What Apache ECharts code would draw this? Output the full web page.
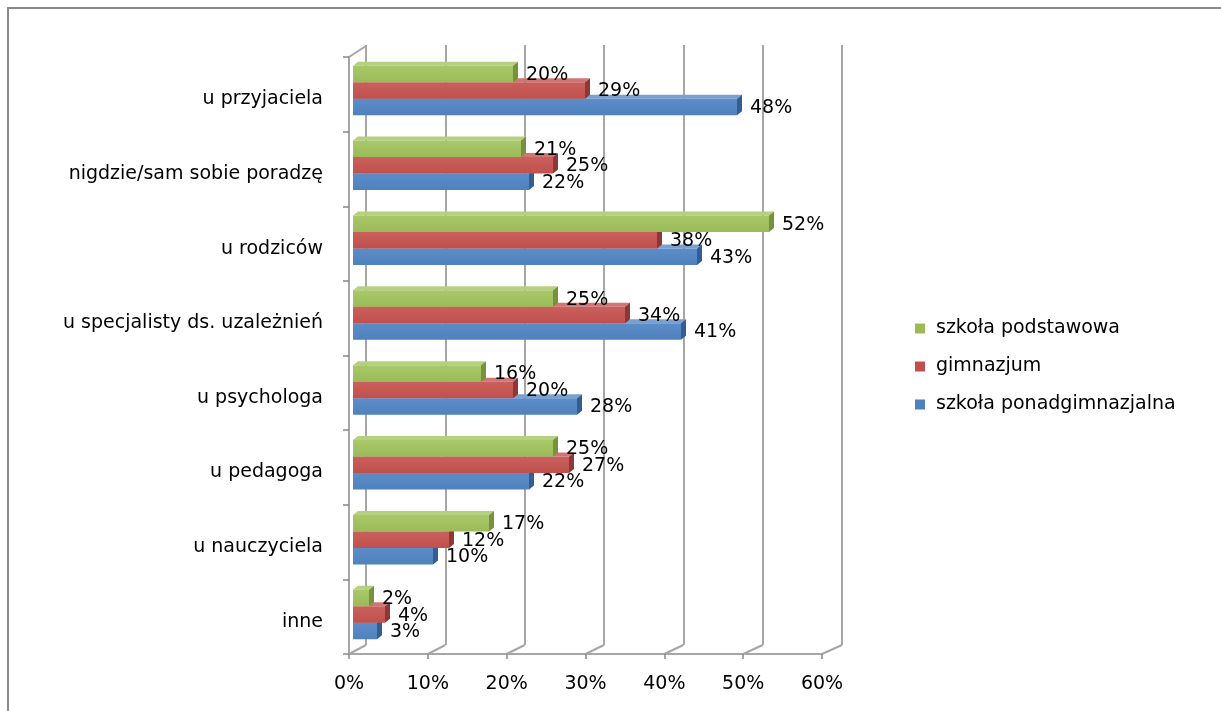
<!DOCTYPE html>
<html><head><meta charset="utf-8">
<script src="https://cdn.jsdelivr.net/npm/echarts@6/dist/echarts.min.js"></script>
<style>html,body{margin:0;padding:0;background:#fff}#c{width:1221px;height:711px}</style>
</head><body><div id="c"></div>
<script>
const categories = ['u przyjaciela','nigdzie/sam sobie poradzę','u rodziców','u specjalisty ds. uzależnień','u psychologa','u pedagoga','u nauczyciela','inne'];
const seriesNames = ['szkoła podstawowa','gimnazjum','szkoła ponadgimnazjalna'];
const podstawowa = [20,21,52,25,16,25,17,2];
const gimnazjum = [29,25,38,34,20,27,12,4];
const ponadgimnazjalna = [48,22,43,41,28,22,10,3];
const xTicks = [0,10,20,30,40,50,60];

const W = 1221, H = 711;
const backGrid = {left:366, right:379, top:45, bottom:66};
const frontGrid = {left:349, right:399, top:57, bottom:57};
const barGrid = {left:353, right:388, top:53, bottom:59};
const labelGrid = {left:349, right:399, top:62, bottom:52};
const FONT = 'DejaVu Sans';
const FS = 19;
const palette = [
  {front:'#9BBB59', light:'#A9C86A', side:'#76923C', top:'#B5D07E'},
  {front:'#C0504D', light:'#CA605D', side:'#8C3836', top:'#D27572'},
  {front:'#4F81BD', light:'#5C8DC8', side:'#345E91', top:'#7AA0D2'}
];
const seriesData = [podstawowa, gimnazjum, ponadgimnazjalna];

function makeRender(s){
  const c = palette[s];
  return function(params, api){
    const v = api.value(0), ci = api.value(1);
    const p0 = api.coord([0, ci]);
    const p1 = api.coord([v, ci]);
    const band = api.size([0, 1])[1];
    const h = band * 0.22;
    const cy = p0[1] + (s - 1) * h;
    const y = cy - h / 2;
    const x0 = p0[0], x1 = p1[0];
    const dx = 5, dy = 4;
    return {
      type:'group',
      children:[
        {type:'polygon', shape:{points:[[x0,y],[x0+dx,y-dy],[x1+dx,y-dy],[x1,y]]}, style:{fill:c.top}},
        {type:'polygon', shape:{points:[[x1,y],[x1+dx,y-dy],[x1+dx,y+h-dy],[x1,y+h]]}, style:{fill:c.side}},
        {type:'rect', shape:{x:x0, y:y, width:x1-x0, height:h},
          style:{fill:new echarts.graphic.LinearGradient(0,0,0,1,[{offset:0,color:c.light},{offset:1,color:c.front}])}},
        {type:'text', style:{text:v+'%', x:x1+dx+8, y:cy+1, verticalAlign:'middle', align:'left',
          fontSize:FS, fontFamily:FONT, fill:'#000'}}
      ]
    };
  };
}

const chart = echarts.init(document.getElementById('c'), null, {renderer:'canvas'});
const gridLine = '#a6a6a6';
chart.setOption({
  animation:false,
  backgroundColor:'#fff',
  grid:[backGrid, frontGrid, barGrid, labelGrid],
  xAxis:[
    {gridIndex:0, type:'value', min:xTicks[0], max:xTicks[xTicks.length-1], interval:10,
      axisLabel:{show:false}, axisLine:{show:false}, axisTick:{show:false},
      splitLine:{show:true, lineStyle:{color:gridLine, width:2}}},
    {gridIndex:1, type:'value', min:xTicks[0], max:xTicks[xTicks.length-1], interval:10,
      axisLabel:{formatter:'{value}%', fontSize:FS, fontFamily:FONT, color:'#000', margin:21},
      axisLine:{show:true, lineStyle:{color:gridLine, width:2}},
      axisTick:{show:true, length:5, lineStyle:{color:'#888', width:1.5}},
      splitLine:{show:false}},
    {gridIndex:2, type:'value', min:xTicks[0], max:xTicks[xTicks.length-1], show:false},
    {gridIndex:3, type:'value', min:xTicks[0], max:xTicks[xTicks.length-1], show:false}
  ],
  yAxis:[
    {gridIndex:0, type:'category', data:categories, inverse:true, show:false},
    {gridIndex:1, type:'category', data:categories, inverse:true,
      axisLine:{show:true, lineStyle:{color:gridLine, width:2}},
      axisTick:{show:true, length:6, lineStyle:{color:'#888', width:1.5}},
      axisLabel:{show:false}},
    {gridIndex:2, type:'category', data:categories, inverse:true, show:false},
    {gridIndex:3, type:'category', data:categories, inverse:true,
      axisLine:{show:false}, axisTick:{show:false},
      axisLabel:{fontSize:FS, fontFamily:FONT, color:'#000', margin:26}}
  ],
  legend:{
    orient:'vertical', left:910, top:314, icon:'rect', itemWidth:10, itemHeight:10, itemGap:19,
    data:seriesNames,
    textStyle:{fontSize:FS, fontFamily:FONT, color:'#000', padding:[0,0,0,6]}
  },
  series: seriesData.map((arr, s) => ({
    name: seriesNames[s], type:'custom', xAxisIndex:2, yAxisIndex:2,
    z: 5 - s,
    itemStyle:{color:palette[s].front},
    encode:{x:0, y:1},
    renderItem: makeRender(s),
    data: arr.map((v, i) => [v, i])
  }))
});

// 3D frame decorations: floor and wall diagonals, outer border
const frontFloorY = H - frontGrid.bottom;
const backFloorY = H - backGrid.bottom;
const g = [
  {type:'rect', id:'border', shape:{x:8, y:8, width:1400, height:900}, style:{fill:null, stroke:'#888', lineWidth:2}, silent:true},
  {type:'line', id:'topdiag', shape:{x1:frontGrid.left, y1:frontGrid.top, x2:backGrid.left, y2:backGrid.top+1},
    style:{stroke:gridLine, lineWidth:2}, silent:true}
];
xTicks.forEach((t, k) => {
  const xf = chart.convertToPixel({xAxisIndex:1}, t);
  const xb = chart.convertToPixel({xAxisIndex:0}, t);
  g.push({type:'line', id:'fd'+k, shape:{x1:xf, y1:frontFloorY, x2:xb, y2:backFloorY},
    style:{stroke:gridLine, lineWidth:2}, silent:true});
});
chart.setOption({graphic:g});
</script>
</body></html>
